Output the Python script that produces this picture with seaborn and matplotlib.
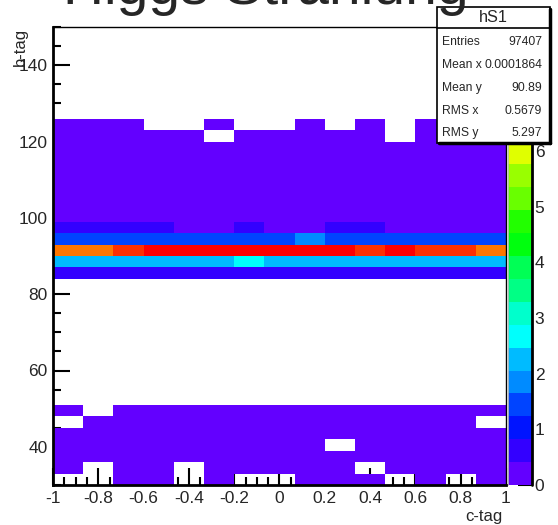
import colorsys
import numpy as np
import pandas as pd
import matplotlib
matplotlib.use("Agg")
import matplotlib.pyplot as plt
from matplotlib.colors import ListedColormap
from matplotlib.patches import Rectangle
from matplotlib.lines import Line2D
import seaborn as sns

# ---------------- data ----------------
title = "Higgs Strahlung"
x_title = "c-tag"
y_title = "b-tag"
c_tag_nbins, c_tag_range = 15, (-1.0, 1.0)
b_tag_nbins, b_tag_range = 40, (30.0, 150.0)
z_max = 8.23

x_ticks = [-1, -0.8, -0.6, -0.4, -0.2, 0, 0.2, 0.4, 0.6, 0.8, 1]
x_tick_labels = ["-1", "-0.8", "-0.6", "-0.4", "-0.2", "0", "0.2", "0.4", "0.6", "0.8", "1"]
y_ticks = [40, 60, 80, 100, 120, 140]
z_ticks = [0, 1, 2, 3, 4, 5, 6]

# bin contents per b-tag row (row lower edge in the name), 15 c-tag bins each
b030 = [0, 0, .2, .2, 0, .2, 0, 0, .2, .2, .2, 0, .2, 0, .2]
b033 = [.2, 0, .2, .2, 0, .2, .2, .2, .2, .2, 0, .2, .2, .2, .2]
b036 = [.2, .2, .2, .2, .2, .2, .2, .2, .2, .2, .2, .2, .2, .2, .2]
b039 = [.2, .2, .2, .2, .2, .2, .2, .2, .2, 0, .2, .2, .2, .2, .2]
b042 = [.2, .2, .2, .2, .2, .2, .2, .2, .2, .2, .2, .2, .2, .2, .2]
b045 = [0, .2, .2, .2, .2, .2, .2, .2, .2, .2, .2, .2, .2, .2, 0]
b048 = [.2, 0, .2, .2, .2, .2, .2, .2, .2, .2, .2, .2, .2, .2, .2]
b084 = [.6, .6, .6, .6, .6, .6, .6, .6, .6, .6, .6, .6, .6, .6, .6]
b087 = [2.25, 2.25, 2.25, 2.25, 2.25, 2.25, 2.7, 2.25, 2.25, 2.25, 2.25, 2.25, 2.25, 2.25, 2.25]
b090 = [7.2, 7.2, 7.6, 8.1, 8.1, 8.1, 8.1, 8.1, 8.1, 8.1, 7.6, 8.1, 7.6, 7.6, 7.2]
b093 = [1.45, 1.45, 1.45, 1.45, 1.45, 1.45, 1.45, 1.45, 1.85, 1.45, 1.45, 1.45, 1.45, 1.45, 1.45]
b096 = [.6, .6, .6, .6, .2, .2, .6, .2, .2, .6, .6, .2, .2, .2, .2]
b099 = [.2, .2, .2, .2, .2, .2, .2, .2, .2, .2, .2, .2, .2, .2, .2]
b102 = [.2, .2, .2, .2, .2, .2, .2, .2, .2, .2, .2, .2, .2, .2, .2]
b105 = [.2, .2, .2, .2, .2, .2, .2, .2, .2, .2, .2, .2, .2, .2, .2]
b108 = [.2, .2, .2, .2, .2, .2, .2, .2, .2, .2, .2, .2, .2, .2, .2]
b111 = [.2, .2, .2, .2, .2, .2, .2, .2, .2, .2, .2, .2, .2, .2, .2]
b114 = [.2, .2, .2, .2, .2, .2, .2, .2, .2, .2, .2, .2, .2, .2, .2]
b117 = [.2, .2, .2, .2, .2, .2, .2, .2, .2, .2, .2, .2, .2, .2, .2]
b120 = [.2, .2, .2, .2, .2, 0, .2, .2, .2, .2, .2, 0, .2, .2, .2]
b123 = [.2, .2, .2, 0, 0, .2, 0, 0, .2, 0, .2, 0, .2, .2, .2]

rows = {30: b030, 33: b033, 36: b036, 39: b039, 42: b042, 45: b045, 48: b048,
        84: b084, 87: b087, 90: b090, 93: b093, 96: b096, 99: b099, 102: b102,
        105: b105, 108: b108, 111: b111, 114: b114, 117: b117, 120: b120, 123: b123}

stats_name = "hS1"
stats_labels = ["Entries", "Mean x", "Mean y", "RMS x", "RMS y"]
stats_values = ["97407", "0.0001864", "90.89", "0.5679", "5.297"]

# ---------------- build table ----------------
x_edges = np.linspace(*c_tag_range, c_tag_nbins + 1)
y_edges = np.linspace(*b_tag_range, b_tag_nbins + 1)
x_cent = 0.5 * (x_edges[:-1] + x_edges[1:])
y_step = y_edges[1] - y_edges[0]
recs = []
for lo, vals in rows.items():
    for xc, v in zip(x_cent, vals):
        if v > 0:
            recs.append((xc, lo + 0.5 * y_step, v))
df = pd.DataFrame(recs, columns=["c", "b", "w"])

# ROOT "pretty" palette with 20 contour levels
cols = []
for c in range(20):
    idx = int((c + 0.99) * 50 / 20)
    hue = 280 - (idx + 1) * 5.6
    cols.append(colorsys.hls_to_rgb(hue / 360.0, 0.5, 1.0))
cmap = ListedColormap(cols)

# ---------------- figure ----------------
W, H = 558, 525
sns.set_style("ticks")
plt.rcParams["font.family"] = ["Liberation Sans", "DejaVu Sans"]
fig = plt.figure(figsize=(W / 100, H / 100), dpi=100)

def fx(x):
    return x / W

def fy(y):
    return 1 - y / H

L, R, T, B = 53, 506, 27, 485
ax = fig.add_axes([fx(L), fy(B), fx(R) - fx(L), fy(T) - fy(B)])
cax = fig.add_axes([fx(508), fy(B), fx(532) - fx(508), fy(T) - fy(B)])

sns.histplot(data=df, x="c", y="b", weights="w", bins=(c_tag_nbins, b_tag_nbins),
             binrange=(c_tag_range, b_tag_range), cmap=cmap, vmin=0, vmax=z_max,
             cbar=True, cbar_ax=cax, ax=ax)

ax.set_xlim(*c_tag_range)
ax.set_ylim(*b_tag_range)
ax.set_xlabel("")
ax.set_ylabel("")
ax.set_xticks(x_ticks)
ax.set_xticklabels(x_tick_labels)
ax.set_yticks(y_ticks)
ax.set_xticks(np.arange(-1, 1.001, 0.05), minor=True)
ax.set_yticks(np.arange(30, 150.1, 5), minor=True)
ax.tick_params(which="both", direction="in", top=False, right=False, width=1.5, color="black")
ax.tick_params(which="major", length=12, labelsize=12.5, pad=4)
ax.tick_params(which="minor", length=6)
for s in ["left", "bottom"]:
    ax.spines[s].set_linewidth(2)
for s in ["top", "right"]:
    ax.spines[s].set_linewidth(1)
for s in ax.spines.values():
    s.set_color("black")

# colorbar styling
cbar = ax.collections[0].colorbar
cbar.outline.set_visible(False)
cax.set_ylim(0, z_max)
cax.set_yticks(z_ticks)
cax.yaxis.set_ticks_position("right")
cax.tick_params(which="major", direction="in", length=10, width=1.5, labelsize=12.5, pad=2, color="black")
cax.minorticks_off()
cax.add_line(Line2D([1, 1], [0, 1], transform=cax.transAxes, color="black", lw=2, clip_on=False))
cax.add_line(Line2D([0, 0], [0, 1], transform=cax.transAxes, color="#bbbbbb", lw=0.6, clip_on=False))

# axis titles
fig.text(fx(503), fy(521), x_title, ha="right", va="baseline", fontsize=12)
fig.text(fx(20), fy(28), y_title, ha="center", va="top", rotation=90, fontsize=12)

# title (partially cut off at the top), drawn above the stats box
fig.text(fx(266), fy(3.5), title, ha="center", va="baseline", fontsize=41, zorder=10)

# stats box
bx0, bx1, by0, by1, byh = 437, 550, 7, 143, 28
fig.add_artist(Rectangle((fx(bx0), fy(by1)), fx(bx1) - fx(bx0), fy(by0) - fy(by1),
                         transform=fig.transFigure, facecolor="white", edgecolor="black", lw=1.2, zorder=5))
fig.add_artist(Line2D([fx(bx0), fx(bx1)], [fy(byh), fy(byh)], transform=fig.transFigure, color="black", lw=1.2, zorder=6))
fig.add_artist(Line2D([fx(bx1), fx(bx1)], [fy(by0 + 2), fy(by1)], transform=fig.transFigure, color="black", lw=2.5, zorder=6))
fig.add_artist(Line2D([fx(bx0 + 2), fx(bx1)], [fy(by1), fy(by1)], transform=fig.transFigure, color="black", lw=2.5, zorder=6))
fig.text(fx((bx0 + bx1) / 2), fy(18), stats_name, ha="center", va="center", fontsize=11.7, zorder=7)
row_y = [41.7, 65, 88, 111, 132.7]
for lab, val, yy in zip(stats_labels, stats_values, row_y):
    fig.text(fx(442), fy(yy), lab, ha="left", va="center", fontsize=8.7, zorder=7)
    fig.text(fx(542), fy(yy), val, ha="right", va="center", fontsize=8.7, zorder=7)

fig.savefig("out.png", dpi=100)
